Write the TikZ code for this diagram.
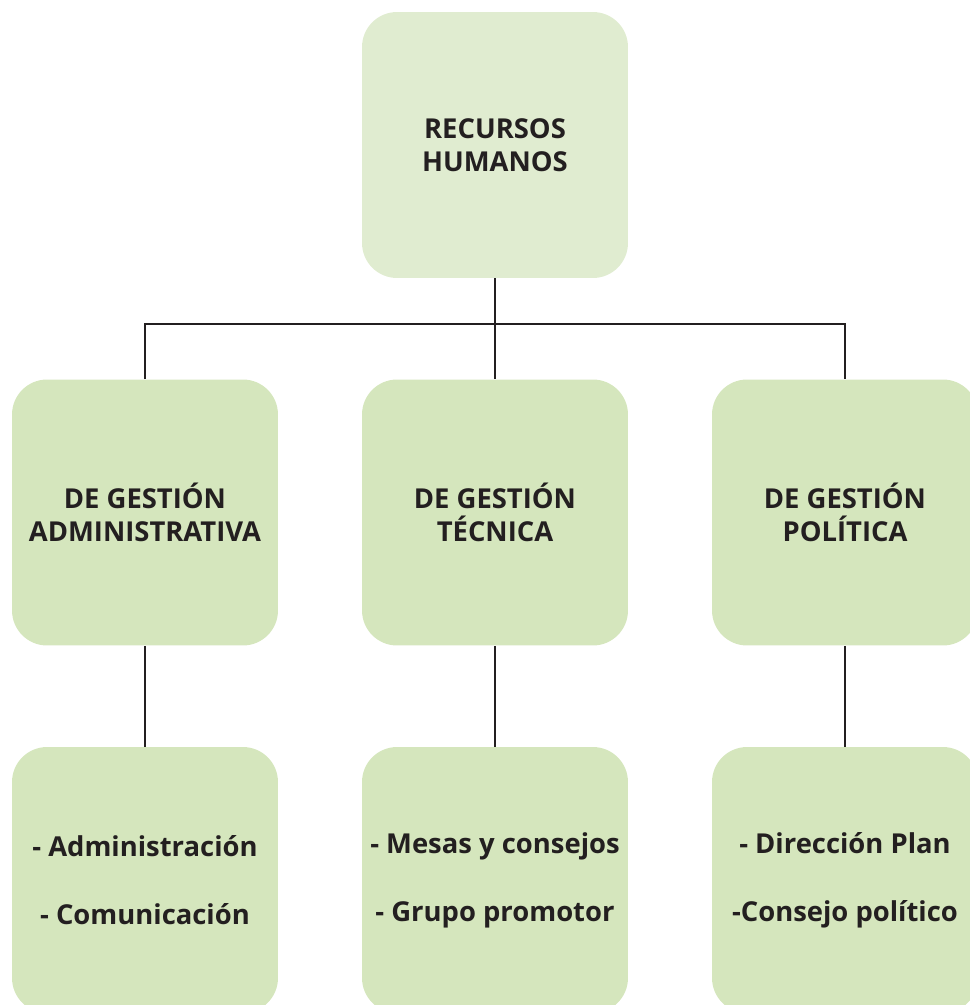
\documentclass[tikz,border=0pt]{standalone}
\usepackage{fontspec}
\setmainfont{Open Sans}
\definecolor{palegreen}{RGB}{224, 236, 208}
\definecolor{leafgreen}{RGB}{213, 230, 189}
\definecolor{inkcol}{RGB}{35, 31, 32}

\tikzset{
  orgbox/.style={fill=leafgreen, rounded corners=0.7cm, minimum width=5.32cm,
    minimum height=5.32cm, inner sep=0pt, align=center, text=inkcol,
    font=\fontsize{15.6}{18.8}\selectfont\bfseries},
  orgline/.style={draw=inkcol, line width=1.1pt}
}

\begin{document}
\begin{tikzpicture}[x=0.02cm, y=-0.02cm]
    \useasboundingbox (0,0) rectangle (970,1005);
    \clip (0,0) rectangle (970,1005);

    % Top box
    \node[orgbox, fill=palegreen] (rrhh) at (495,145) {RECURSOS\\HUMANOS};

    % Middle row
    \node[orgbox] (adm) at (145,512.5) {DE GESTIÓN\\ADMINISTRATIVA};
    \node[orgbox] (tec) at (495,512.5) {DE GESTIÓN\\TÉCNICA};
    \node[orgbox] (pol) at (845,512.5) {DE GESTIÓN\\POLÍTICA};

    % Bottom row
    \node[orgbox] (admsub) at (145,880) {- Administración\\[0.7cm]- Comunicación};
    \node[orgbox] (tecsub) at (495,880) {- Mesas y consejos\\[0.7cm]- Grupo promotor};
    \node[orgbox] (polsub) at (845,880) {- Dirección Plan\\[0.7cm]-Consejo político};

    % Connectors
    \coordinate (bus) at (495,324);
    \draw[orgline] (rrhh.south) -- (tec.north);
    \draw[orgline] (adm.north) |- (bus) -| (pol.north);
    \draw[orgline] (adm.south) -- (admsub.north);
    \draw[orgline] (tec.south) -- (tecsub.north);
    \draw[orgline] (pol.south) -- (polsub.north);
\end{tikzpicture}
\end{document}
